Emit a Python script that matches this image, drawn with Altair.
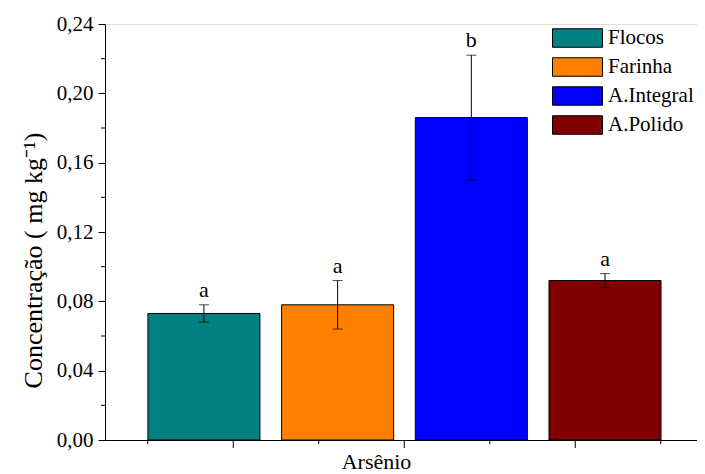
import altair as alt
import pandas as pd

categories = ["Flocos", "Farinha", "A.Integral", "A.Polido"]
means = [0.073, 0.078, 0.186, 0.092]
errors = [0.005, 0.014, 0.036, 0.004]
letters = ["a", "a", "b", "a"]
colors = ["#008080", "#FF8000", "#0000FF", "#800000"]
y_major = [0.0, 0.04, 0.08, 0.12, 0.16, 0.20, 0.24]
y_minor = [0.02, 0.06, 0.10, 0.14, 0.18, 0.22]
x_major = [1.5, 3.5, 5.5]
x_minor = [0.5, 2.5, 4.5, 6.5]

FONT = "Liberation Serif"
W, H = 592, 416

df = pd.DataFrame({
    "cat": categories,
    "mean": means,
    "low": [m - e for m, e in zip(means, errors)],
    "high": [m + e for m, e in zip(means, errors)],
    "letter": letters,
})

xband = alt.Scale(domain=categories, paddingInner=0.162, paddingOuter=0.295, align=0.544)
yscale = alt.Scale(domain=[0, 0.24], nice=False, zero=True)

xaxis = alt.Axis(title="Arsênio", labels=False, ticks=False, domain=True,
                 domainColor="black", titleFont=FONT, titleFontSize=22,
                 titleFontWeight="normal", titleColor="black",
                 titlePadding=11, titleX=271)
yaxis = alt.Axis(title="Concentração ( mg kg⁻¹)", values=y_major,
                 labelExpr="replace(format(datum.value, '.2f'), '.', ',')",
                 tickSize=7, tickColor="black", domainColor="black",
                 grid=False, labelFont=FONT, labelFontSize=21,
                 labelColor="black", labelPadding=5,
                 titleFont=FONT, titleFontSize=26, titleFontWeight="normal",
                 titleColor="black", titlePadding=10, titleY=236)

X = lambda: alt.X("cat:N", scale=xband, sort=categories, axis=xaxis)

bars = alt.Chart(df).mark_bar(stroke="black", strokeWidth=1).encode(
    x=X(),
    y=alt.Y("mean:Q", scale=yscale, axis=yaxis),
    color=alt.Color("cat:N", scale=alt.Scale(domain=categories, range=colors),
                    sort=categories,
                    legend=alt.Legend(title=None, orient="none", legendX=447, legendY=4,
                                      symbolType="M-1,-0.37L1,-0.37L1,0.37L-1,0.37Z",
                                      symbolSize=2500, symbolStrokeColor="black",
                                      symbolStrokeWidth=1, symbolOpacity=1,
                                      clipHeight=20, rowPadding=8, labelOffset=5,
                                      labelFont=FONT, labelFontSize=21, labelColor="black",
                                      padding=0)),
)

err = alt.Chart(df).mark_rule(color="black", strokeWidth=1).encode(
    x=X(),
    y=alt.Y("low:Q", scale=yscale, axis=yaxis),
    y2="high:Q",
)
cap_lo = alt.Chart(df).mark_tick(color="black", size=10, thickness=1, orient="horizontal").encode(
    x=X(),
    y=alt.Y("low:Q", scale=yscale, axis=yaxis),
)
cap_hi = alt.Chart(df).mark_tick(color="black", size=10, thickness=1, orient="horizontal").encode(
    x=X(),
    y=alt.Y("high:Q", scale=yscale, axis=yaxis),
)
labels = alt.Chart(df).mark_text(font=FONT, fontSize=22, color="black",
                                 baseline="bottom", dy=-3).encode(
    x=X(),
    y=alt.Y("high:Q", scale=yscale, axis=yaxis),
    text="letter:N",
)

ymin_df = pd.DataFrame({"v": y_minor})
yminor = alt.Chart(ymin_df).mark_rule(color="black", strokeWidth=1).encode(
    y=alt.Y("v:Q", scale=yscale, axis=yaxis),
    x=alt.value(0), x2=alt.value(-4),
)

xt = pd.DataFrame({"p": x_major})
xm = pd.DataFrame({"p": x_minor})
tick_scale = alt.Scale(domain=[0, 7], range=[0, 598.5])
xmaj_ticks = alt.Chart(xt).mark_rule(color="black", strokeWidth=1).encode(
    x=alt.X("p:Q", scale=tick_scale, axis=None),
    y=alt.value(H), y2=alt.value(H + 8),
)
xmin_ticks = alt.Chart(xm).mark_rule(color="black", strokeWidth=1).encode(
    x=alt.X("p:Q", scale=tick_scale, axis=None),
    y=alt.value(H), y2=alt.value(H + 4),
)

main = alt.layer(bars, err, cap_lo, cap_hi, labels, yminor)
ticks = alt.layer(xmaj_ticks, xmin_ticks)

chart = alt.layer(main, ticks).resolve_scale(x="independent").properties(
    width=W, height=H,
    autosize=alt.AutoSizeParams(type="none"),
    padding={"left": 97, "top": 16, "right": 0, "bottom": 34},
).configure_view(stroke=None).configure(
    background="white"
)

chart.save("out.html", embed_options={"renderer": "svg", "actions": False})
